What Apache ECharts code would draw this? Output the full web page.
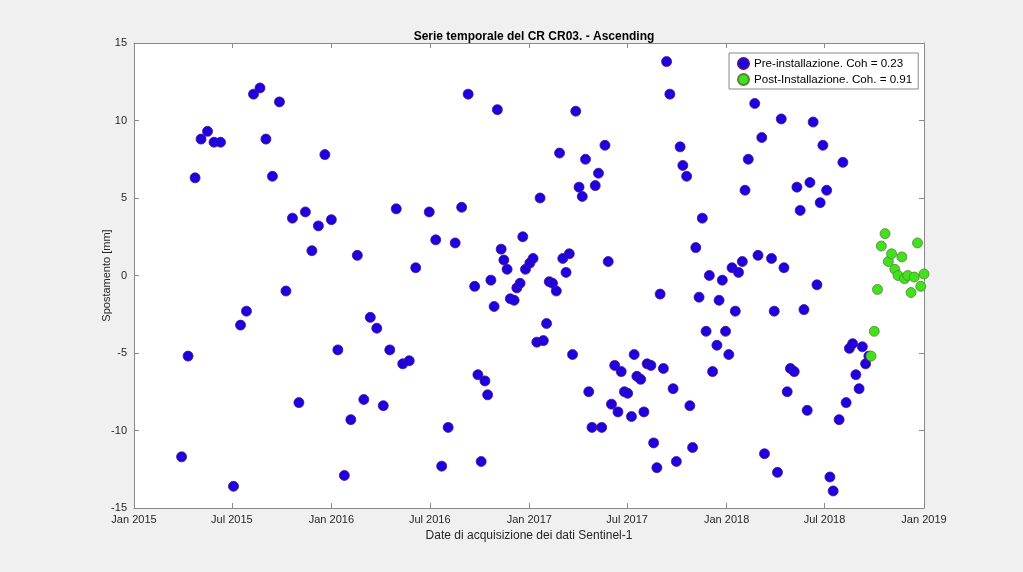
<!DOCTYPE html>
<html>
<head>
<meta charset="utf-8">
<script src="https://cdn.jsdelivr.net/npm/echarts@6/dist/echarts.min.js"></script>
<style>
html,body{margin:0;padding:0;background:#f0f0f0;}
#chart{width:1023px;height:572px;}
</style>
</head>
<body>
<div id="chart"></div>
<script>
const preDates = ['2015-03-30','2015-04-11','2015-04-24','2015-05-05','2015-05-17','2015-05-29','2015-06-10','2015-07-04','2015-07-17','2015-07-28','2015-08-10','2015-08-22','2015-09-02','2015-09-14','2015-09-27','2015-10-09','2015-10-21','2015-11-02','2015-11-14','2015-11-26','2015-12-08','2015-12-20','2016-01-01','2016-01-13','2016-01-25','2016-02-06','2016-02-18','2016-03-01','2016-03-13','2016-03-25','2016-04-06','2016-04-18','2016-04-30','2016-05-12','2016-05-24','2016-06-05','2016-06-30','2016-07-12','2016-07-23','2016-08-04','2016-08-17','2016-08-29','2016-09-10','2016-09-22','2016-09-28','2016-10-04','2016-10-11','2016-10-16','2016-10-22','2016-10-28','2016-11-03','2016-11-10','2016-11-15','2016-11-21','2016-11-27','2016-12-04','2016-12-09','2016-12-15','2016-12-20','2016-12-25','2017-01-02','2017-01-08','2017-01-15','2017-01-21','2017-01-27','2017-02-02','2017-02-07','2017-02-13','2017-02-20','2017-02-26','2017-03-04','2017-03-10','2017-03-16','2017-03-22','2017-03-28','2017-04-03','2017-04-09','2017-04-15','2017-04-21','2017-04-27','2017-05-03','2017-05-09','2017-05-15','2017-05-21','2017-05-27','2017-06-02','2017-06-08','2017-06-14','2017-06-20','2017-06-26','2017-07-02','2017-07-09','2017-07-14','2017-07-19','2017-07-26','2017-08-01','2017-08-07','2017-08-14','2017-08-19','2017-08-25','2017-08-31','2017-09-06','2017-09-12','2017-09-18','2017-09-24','2017-09-30','2017-10-07','2017-10-12','2017-10-19','2017-10-25','2017-10-30','2017-11-05','2017-11-11','2017-11-17','2017-11-24','2017-11-30','2017-12-06','2017-12-14','2017-12-18','2017-12-24','2017-12-30','2018-01-05','2018-01-11','2018-01-17','2018-01-23','2018-01-30','2018-02-04','2018-02-10','2018-02-22','2018-02-28','2018-03-07','2018-03-12','2018-03-25','2018-03-30','2018-04-05','2018-04-12','2018-04-17','2018-04-23','2018-04-29','2018-05-06','2018-05-11','2018-05-17','2018-05-24','2018-05-30','2018-06-04','2018-06-10','2018-06-17','2018-06-23','2018-06-28','2018-07-05','2018-07-11','2018-07-17','2018-07-28','2018-08-04','2018-08-10','2018-08-16','2018-08-22','2018-08-28','2018-09-03','2018-09-09','2018-09-15','2018-09-21'];
const preValues = [-11.7,-5.2,6.3,8.8,9.3,8.6,8.6,-13.6,-3.2,-2.3,11.7,12.1,8.8,6.4,11.2,-1.0,3.7,-8.2,4.1,1.6,3.2,7.8,3.6,-4.8,-12.9,-9.3,1.3,-8.0,-2.7,-3.4,-8.4,-4.8,4.3,-5.7,-5.5,0.5,4.1,2.3,-12.3,-9.8,2.1,4.4,11.7,-0.7,-6.4,-12.0,-6.8,-7.7,-0.3,-2.0,10.7,1.7,1.0,0.4,-1.5,-1.6,-0.8,-0.5,2.5,0.4,0.8,1.1,-4.3,5.0,-4.2,-3.1,-0.4,-0.5,-1.0,7.9,1.1,0.2,1.4,-5.1,10.6,5.7,5.1,7.5,-7.5,-9.8,5.8,6.6,-9.8,8.4,0.9,-8.3,-5.8,-8.8,-6.2,-7.5,-7.6,-9.1,-5.1,-6.5,-6.7,-8.8,-5.7,-5.8,-10.8,-12.4,-1.2,-6.0,13.8,11.7,-7.3,-12.0,8.3,7.1,6.4,-8.4,-11.1,1.8,-1.4,3.7,-3.6,0.0,-6.2,-4.5,-1.6,-0.3,-3.6,-5.1,0.5,-2.3,0.2,0.9,5.5,7.5,11.1,1.3,8.9,-11.5,1.1,-2.3,-12.7,10.1,0.5,-7.5,-6.0,-6.2,5.7,4.2,-2.2,-8.7,6.0,9.9,-0.6,4.7,8.4,5.5,-13.0,-13.9,-9.3,7.3,-8.2,-4.7,-4.4,-6.4,-7.3,-4.6,-5.7,-5.2];
const postDates = ['2018-09-25','2018-10-01','2018-10-07','2018-10-14','2018-10-21','2018-10-27','2018-11-02','2018-11-08','2018-11-14','2018-11-21','2018-11-26','2018-12-02','2018-12-08','2018-12-14','2018-12-20','2018-12-26','2019-01-01'];
const postValues = [-5.2,-3.6,-0.9,1.9,2.7,0.9,1.4,0.4,0.0,1.2,-0.2,0.0,-1.1,-0.1,2.1,-0.7,0.1];
const xTickDates = ['2015-01-01','2015-07-01','2016-01-01','2016-07-01','2017-01-01','2017-07-01','2018-01-01','2018-07-01','2019-01-01'];
const xTickLabels = ['Jan 2015','Jul 2015','Jan 2016','Jul 2016','Jan 2017','Jul 2017','Jan 2018','Jul 2018','Jan 2019'];
const yTicks = [-15,-10,-5,0,5,10,15];
const titleText = 'Serie temporale del CR CR03. - Ascending';
const preName = 'Pre-installazione. Coh = 0.23';
const postName = 'Post-Installazione. Coh. = 0.91';

function ts(s){ const p = s.split('-').map(Number); return Date.UTC(p[0], p[1]-1, p[2]); }
const tickTs = xTickDates.map(ts);
const labelMap = {};
tickTs.forEach((t,i)=>{ labelMap[t] = xTickLabels[i]; });

const font = 'Liberation Sans, Arial, sans-serif';
const axisCol = '#8a8a8a';
const txtCol = '#262626';

const chart = echarts.init(document.getElementById('chart'));
chart.setOption({
  backgroundColor: '#f0f0f0',
  animation: false,
  title: {
    text: titleText, left: 529, top: 26, textAlign: 'center',
    textStyle: {fontFamily: font, fontSize: 12, fontWeight: 'bold', color: '#000'}
  },
  legend: {
    orient: 'vertical', left: 729, top: 53,
    backgroundColor: '#fff', borderColor: '#888', borderWidth: 1,
    padding: [4, 6, 3, 8], itemGap: 3, itemWidth: 11, itemHeight: 11,
    textStyle: {fontFamily: font, fontSize: 11.6, color: '#000'},
    data: [{name: preName, icon: 'circle'}, {name: postName, icon: 'circle'}]
  },
  grid: {left: 134, top: 43, width: 790, height: 465, show: true, backgroundColor: '#fff', borderWidth: 0},
  xAxis: [{
    type: 'value', min: tickTs[0], max: tickTs[tickTs.length-1],
    name: 'Date di acquisizione dei dati Sentinel-1', nameLocation: 'middle', nameGap: 22,
    nameTextStyle: {fontFamily: font, fontSize: 12, color: txtCol},
    axisLine: {onZero: false, lineStyle: {color: axisCol}},
    axisTick: {inside: true, length: 5, customValues: tickTs, lineStyle: {color: axisCol}},
    axisLabel: {customValues: tickTs, fontFamily: font, fontSize: 11, color: txtCol, margin: 6,
      formatter: v => labelMap[v] || ''},
    splitLine: {show: false}
  }, {
    type: 'value', position: 'top', min: tickTs[0], max: tickTs[tickTs.length-1],
    axisLine: {show: true, onZero: false, lineStyle: {color: axisCol}},
    axisTick: {inside: true, length: 5, customValues: tickTs, lineStyle: {color: axisCol}},
    axisLabel: {show: false}, splitLine: {show: false}
  }],
  yAxis: [{
    type: 'value', min: -15, max: 15, interval: 5,
    name: 'Spostamento [mm]', nameLocation: 'middle', nameGap: 22, nameRotate: 90, nameMoveOverlap: false,
    nameTextStyle: {fontFamily: font, fontSize: 11, color: txtCol},
    axisLine: {show: true, onZero: false, lineStyle: {color: axisCol}},
    axisTick: {show: true, inside: true, length: 5, lineStyle: {color: axisCol}},
    axisLabel: {fontFamily: font, fontSize: 11, color: txtCol, margin: 7,
      formatter: v => yTicks.includes(v) ? String(v) : ''},
    splitLine: {show: false}
  }, {
    type: 'value', position: 'right', min: -15, max: 15, interval: 5,
    axisLine: {show: true, onZero: false, lineStyle: {color: axisCol}},
    axisTick: {show: true, inside: true, length: 5, lineStyle: {color: axisCol}},
    axisLabel: {show: false}, splitLine: {show: false}
  }],
  series: [{
    name: preName, type: 'scatter', symbol: 'circle', symbolSize: 10, clip: false,
    itemStyle: {color: '#1c00e0', borderColor: '#50108a', borderWidth: 0.8, opacity: 1},
    data: preDates.map((d,i)=>[ts(d), preValues[i]])
  }, {
    name: postName, type: 'scatter', symbol: 'circle', symbolSize: 10, clip: false,
    itemStyle: {color: '#3fe31b', borderColor: '#5d7f3c', borderWidth: 0.8, opacity: 1},
    data: postDates.map((d,i)=>[ts(d), postValues[i]])
  }]
});
</script>
</body>
</html>
